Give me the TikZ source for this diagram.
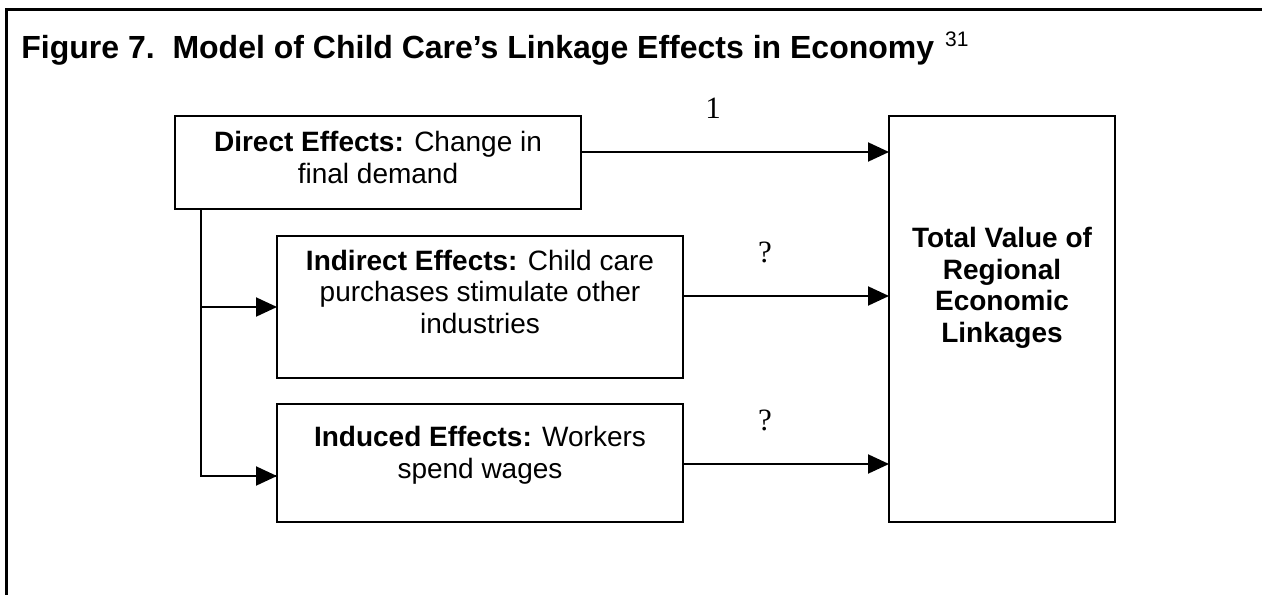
\documentclass[tikz,border=0pt]{standalone}
\usepackage{fontspec}
\setmainfont{Liberation Sans}
\newfontfamily\serifnum{Liberation Serif}
\usetikzlibrary{arrows.meta}
\begin{document}
\begin{tikzpicture}[x=0.5pt,y=-0.5pt,
  box/.style={draw, line width=1pt, inner sep=0pt, outer sep=0pt},
  arr/.style={line width=1pt, -{Triangle[length=10.5pt,width=9.5pt]}},
  conn/.style={line width=1pt},
  boxtext/.style={inner sep=0pt, align=center, anchor=base, font=\fontsize{14pt}{15.7pt}\selectfont},
  numlab/.style={inner sep=0pt, font=\serifnum\fontsize{15.5pt}{16pt}\selectfont}]
\useasboundingbox (0,0) rectangle (1262,594);
% outer frame
\coordinate (frameBL) at (6,600);
\coordinate (frameTL) at (6,9);
\coordinate (frameTR) at (1270,9);
\draw[line width=1.5pt] (frameBL) -- (frameTL) -- (frameTR);
% title
\node[inner sep=0pt, anchor=base west, font=\fontsize{16pt}{18pt}\selectfont] (title) at (21,58)
  {\bfseries Figure 7.\ \ Model of Child Care’s Linkage Effects in Economy\hspace{5.5pt}\raisebox{6pt}{\mdseries\fontsize{10.5pt}{12pt}\selectfont 31}};
% boxes
\node[box, minimum width=203pt, minimum height=46.5pt] (direct) at (378,162.5) {};
\node[box, minimum width=203pt, minimum height=71pt] (indirect) at (480,307) {};
\node[box, minimum width=203pt, minimum height=59pt] (induced) at (480,463) {};
\node[box, minimum width=113pt, minimum height=203pt] (total) at (1002,319) {};
% box texts (anchor at baseline of last line)
\node[boxtext] (directtext) at (378,183) {\textbf{Direct Effects:} Change in\\final demand};
\node[boxtext] (indirecttext) at (480,333) {\textbf{Indirect Effects:} Child care\\purchases stimulate other\\industries};
\node[boxtext] (inducedtext) at (480,478) {\textbf{Induced Effects:} Workers\\spend wages};
\node[boxtext, font=\bfseries\fontsize{14pt}{15.7pt}\selectfont] (totaltext) at (1002,342) {Total Value of\\Regional\\Economic\\Linkages};
% connectors to total
\draw[arr] ([yshift=5.25pt]direct.east) -- ([yshift=5.25pt]direct.east -| total.west);
\draw[arr] ([yshift=5.5pt]indirect.east) -- ([yshift=5.5pt]indirect.east -| total.west);
\draw[arr] ([yshift=-0.5pt]induced.east) -- ([yshift=-0.5pt]induced.east -| total.west);
% branch from direct
\coordinate (trunk) at ([xshift=13pt]direct.south west);
\coordinate (indin) at ([yshift=-6.5pt]induced.west);
\draw[conn] (trunk) |- (indin);
\draw[arr] (trunk |- indirect.west) -- (indirect.west);
\draw[arr] (trunk |- indin) -- (indin);
% labels
\node[numlab] (lab1) at (713,108) {1};
\node[numlab] (labq1) at (765,252) {?};
\node[numlab] (labq2) at (765,420) {?};
\end{tikzpicture}
\end{document}
